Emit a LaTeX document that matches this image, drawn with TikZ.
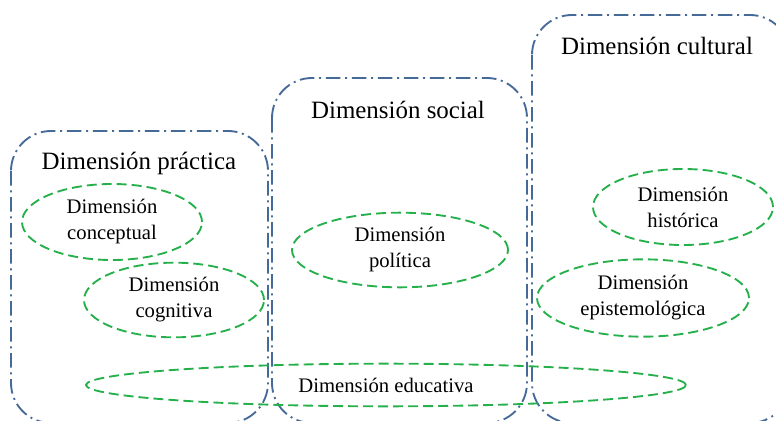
\documentclass[tikz,border=0pt]{standalone}
\usepackage{fontspec}
\setmainfont{Liberation Serif}
\usetikzlibrary{shapes.geometric}
\definecolor{boxblue}{RGB}{70,106,152}
\definecolor{dimgreen}{RGB}{38,176,76}
\begin{document}
\begin{tikzpicture}[x=0.75pt,y=-0.75pt,
 dimbox/.style={draw=boxblue,line width=1.4pt,rounded corners=30pt,dash pattern=on 11pt off 3.5pt on 1.5pt off 3.5pt},
 boxtitle/.style={anchor=base,inner sep=0pt,font=\fontsize{18.7}{22}\selectfont},
 subdim/.style={ellipse,draw=dimgreen,line width=1.4pt,dash pattern=on 7.5pt off 3.75pt,align=center,inner sep=0pt,font=\fontsize{15.5}{19.5}\selectfont}]
 \clip (0,0) rectangle (776,421);

 % the three large dimensions
 \draw[dimbox] (11,131) rectangle (268,423);
 \draw[dimbox] (272,78) rectangle (527,423);
 \draw[dimbox] (532,15) rectangle (790,423);

 \node[boxtitle] (practica) at (139,169){Dimensión práctica};
 \node[boxtitle] (social) at (398,118){Dimensión social};
 \node[boxtitle] (cultural) at (657,54){Dimensión cultural};

 % inner dimensions
 \node[subdim,minimum width=135pt,minimum height=57pt] (conceptual) at (112,222){Dimensión\\conceptual};
 \node[subdim,minimum width=135pt,minimum height=56pt] (cognitiva) at (174,300){Dimensión\\cognitiva};
 \node[subdim,minimum width=162pt,minimum height=56pt] (politica) at (400,250){Dimensión\\política};
 \node[subdim,minimum width=135pt,minimum height=57pt] (historica) at (683,207){Dimensión\\histórica};
 \node[subdim,minimum width=159pt,minimum height=58pt] (epistemologica) at (643,298){Dimensión\\epistemológica};
 \node[subdim,minimum width=450pt,minimum height=32pt] (educativa) at (386,385){Dimensión educativa};
\end{tikzpicture}
\end{document}
